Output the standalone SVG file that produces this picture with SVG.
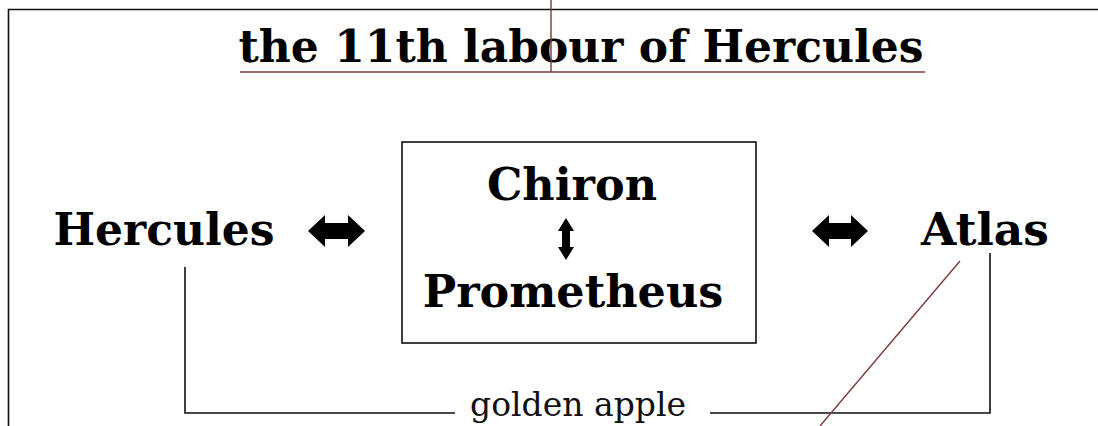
<svg xmlns="http://www.w3.org/2000/svg" width="1098" height="426" viewBox="0 0 1098 426">
<style>
.bold{font-family:"DejaVu Serif","Liberation Serif",serif;font-weight:bold;fill:#000;text-anchor:middle}
.line{fill:none;stroke:#111;stroke-width:1.6}
.red{fill:none;stroke:#7a3b3b;stroke-width:1.4}
.arrow{fill:#000}
</style>
<rect x="0" y="0" width="1098" height="426" fill="#fff"/>
<g id="frame">
<path class="line" d="M8.5,426 V9.5 H1098" stroke-width="2"/>
</g>
<g id="title">
<text class="bold" x="581" y="62" font-size="44">the 11th labour of Hercules</text>
</g>
<g id="hercules">
<text class="bold" x="164" y="245" font-size="44">Hercules</text>
</g>
<g id="atlas">
<text class="bold" x="985" y="245" font-size="45.5">Atlas</text>
</g>
<g id="center-box">
<rect class="line" x="402" y="142" width="354" height="201"/>
<text class="bold" x="572" y="200" font-size="44.5">Chiron</text>
<text class="bold" x="573" y="307" font-size="44.5">Prometheus</text>
<path class="arrow" d="M566,218 L574,231 H570 V247 H574 L566,260 L558,247 H562 V231 H558 Z"/>
</g>
<g id="golden-apple">
<text x="578" y="416" font-size="33" font-family="DejaVu Serif,Liberation Serif,serif" text-anchor="middle" fill="#111" textLength="216" lengthAdjust="spacingAndGlyphs">golden apple</text>
</g>
<g id="connectors">
<path class="arrow" d="M308,231 L325,215 V223 H348 V215 L365,231 L348,247 V239 H325 V247 Z"/>
<path class="arrow" d="M812,231 L829,215 V223 H851 V215 L868,231 L851,247 V239 H829 V247 Z"/>
<path class="line" d="M185,267 V413 H455"/>
<path class="line" d="M710,413 H990 V253"/>
<path class="red" d="M240,72 H925"/>
<path class="red" d="M551,0 V72"/>
<path class="red" d="M960,261 L820,426"/>
</g>
</svg>
